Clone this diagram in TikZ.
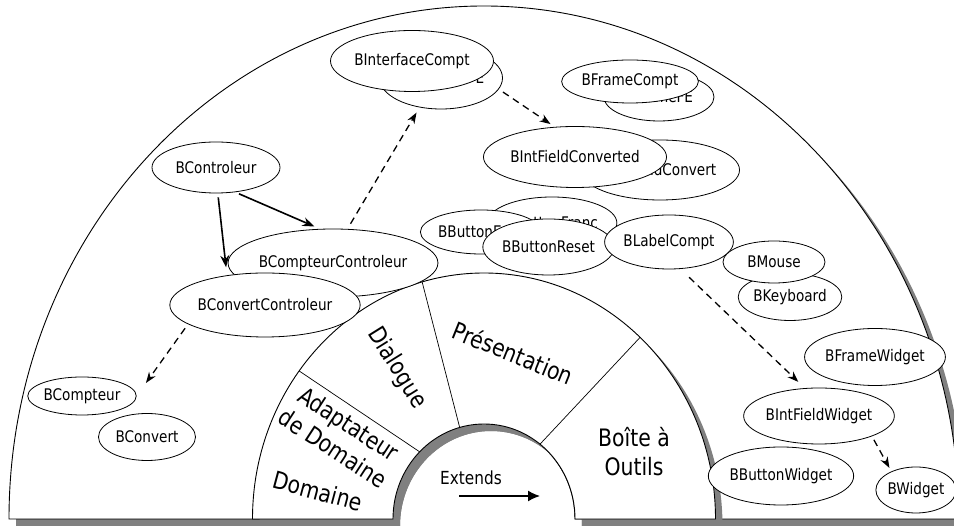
\documentclass[tikz,border=0pt]{standalone}
\usepackage{fontspec}
\setmainfont{DejaVu Sans}[FakeStretch=0.85]
\usetikzlibrary{arrows.meta,calc,shapes.geometric}

\newcommand\clsfont{\fontsize{16}{19}\selectfont}
\newcommand\zonefont{\fontsize{24}{29}\selectfont}
\newcommand\extfont{\fontsize{18}{22}\selectfont}

% outline of the big arch and of the inner ring (both with the same hole)
\newcommand\outerarch{(9,8) arc[start angle=180, end angle=0, x radius=475, y radius=513]
  -- (575,8) arc[start angle=0, end angle=180, x radius=91, y radius=95] -- cycle}
\newcommand\ringarch{(252.5,8) arc[start angle=180, end angle=0, x radius=231.5, y radius=246]
  -- (575,8) arc[start angle=0, end angle=180, x radius=91, y radius=95] -- cycle}

\begin{document}
\begin{tikzpicture}[
  x=1pt, y=1pt,
  cls/.style 2 args={ellipse, draw, fill=white, line width=0.8pt, inner sep=0pt,
                     minimum width=#1, minimum height=#2, font=\clsfont},
  zone/.style={font=\zonefont, align=center},
  wall/.style={draw, fill=white, line width=0.9pt},
  shadowfill/.style={fill=black!50},
  divider/.style={line width=0.7pt},
  uses/.style={-{Stealth[length=12pt, width=9pt]}, line width=1.6pt},
  calls/.style={-{Stealth[length=11pt, width=8pt]}, line width=1.3pt, dash pattern=on 7pt off 5pt},
]
  \useasboundingbox (0,0) rectangle (954,527);
  \clip (0,0) rectangle (954,527);
  \coordinate (c) at (484,8);

  % ----- Arch and ring, with drop shadows -----
  \fill[shadowfill, shift={(7,-7)}] \outerarch;
  \path[wall] \outerarch;
  \fill[shadowfill, shift={(7,-7)}] \ringarch;
  \path[wall] \ringarch;

  % ----- Sector borders -----
  \draw[divider] ($(c)+(143:231.5 and 246)$) -- ($(c)+(135:91 and 95)$);
  \draw[divider] ($(c)+(105.5:231.5 and 246)$) -- ($(c)+(105.5:91 and 95)$);
  \draw[divider] ($(c)+(47.6:231.5 and 246)$) -- ($(c)+(52:91 and 95)$);

  % ----- Layer names -----
  \node[zone, rotate=-22] (pres)   at (513,174) {Présentation};
  \node[zone, rotate=-58] (dial)   at (397,159) {Dialogue};
  \node[zone, rotate=-33] (adapt)  at (341,91)  {Adaptateur\\de Domaine};
  \node[zone, rotate=-15] (dom)    at (318,36)  {Domaine};
  \node[zone]             (outils) at (634,75)  {Boîte à\\Outils};

  \node[font=\extfont] (ext) at (471,49) {Extends};
  \coordinate (extA) at (459,31);
  \coordinate (extB) at (540,31);
  \draw[-{Latex[length=12pt, width=11pt]}, line width=1.5pt] (extA) -- (extB);

  % ----- Presentation classes (back ones first) -----
  \node[cls={123pt}{62pt}] (ifcfe)   at (441,449) {BInterfaceFE};
  \node[cls={141pt}{61pt}] (ifcpt)   at (412,466) {BInterfaceCompt};
  \node[cls={110pt}{48pt}] (frcfe)   at (659,430) {BFrameFE};
  \node[cls={120pt}{43pt}] (frcpt)   at (630,445.5) {BFrameCompt};
  \node[cls={136pt}{60pt}] (ifconv)  at (660,357) {BIntFieldConvert};
  \node[cls={147pt}{61pt}] (ifconvd) at (575,370) {BIntFieldConverted};
  \node[cls={110pt}{52pt}] (bfranc)  at (552,304) {BButtonFranc};
  \node[cls={108pt}{44pt}] (beuro)   at (481,295) {BButtonEuro};
  \node[cls={113pt}{56pt}] (breset)  at (548.5,280) {BButtonReset};
  \node[cls={118pt}{54pt}] (lblcpt)  at (669,285) {BLabelCompt};

  % ----- Toolkit classes -----
  \node[cls={101pt}{47pt}] (kbd)     at (790,230) {BKeyboard};
  \node[cls={102pt}{42pt}] (mouse)   at (774,265) {BMouse};
  \node[cls={123pt}{57pt}] (frwdg)   at (875,170) {BFrameWidget};
  \node[cls={127pt}{56pt}] (ifwdg)   at (819,111) {BIntFieldWidget};
  \node[cls={121pt}{58pt}] (btwdg)   at (781,51)  {BButtonWidget};
  \node[cls={78pt}{46pt}]  (wdg)     at (916,37)  {BWidget};

  % ----- Dialogue and domain classes -----
  \node[cls={128pt}{51pt}] (ctrl)    at (216,359.5) {BControleur};
  \node[cls={165pt}{68pt}] (cptctrl) at (333,264) {BCompteurControleur};
  \node[cls={160pt}{64pt}] (cvctrl)  at (265,222) {BConvertControleur};
  \node[cls={99pt}{38pt}]  (cpt)     at (82,131)  {BCompteur};
  \node[cls={97pt}{47pt}]  (conv)    at (147,90)  {BConvert};

  % ----- Links -----
  \draw[uses, shorten <=4pt, shorten >=8pt] (ctrl.-86) -- (cvctrl.142);
  \draw[uses, shorten <=4pt, shorten >=6pt] (ctrl.-52) -- (cptctrl.111);

  \draw[calls, shorten <=6pt, shorten >=6pt] (cptctrl.67) -- (ifcfe.234);
  \draw[calls, shorten <=5pt, shorten >=5pt] (ifcfe.-11) -- (ifconvd.124);
  \draw[calls, shorten <=5pt, shorten >=16pt] (cvctrl.194) -- (cpt.east);
  \draw[calls, shorten <=12pt, shorten >=9pt] (lblcpt.-67) -- (ifwdg.117);
  \draw[calls, shorten <=4pt, shorten >=4pt] (ifwdg.-21) -- (wdg.143);
\end{tikzpicture}
\end{document}
